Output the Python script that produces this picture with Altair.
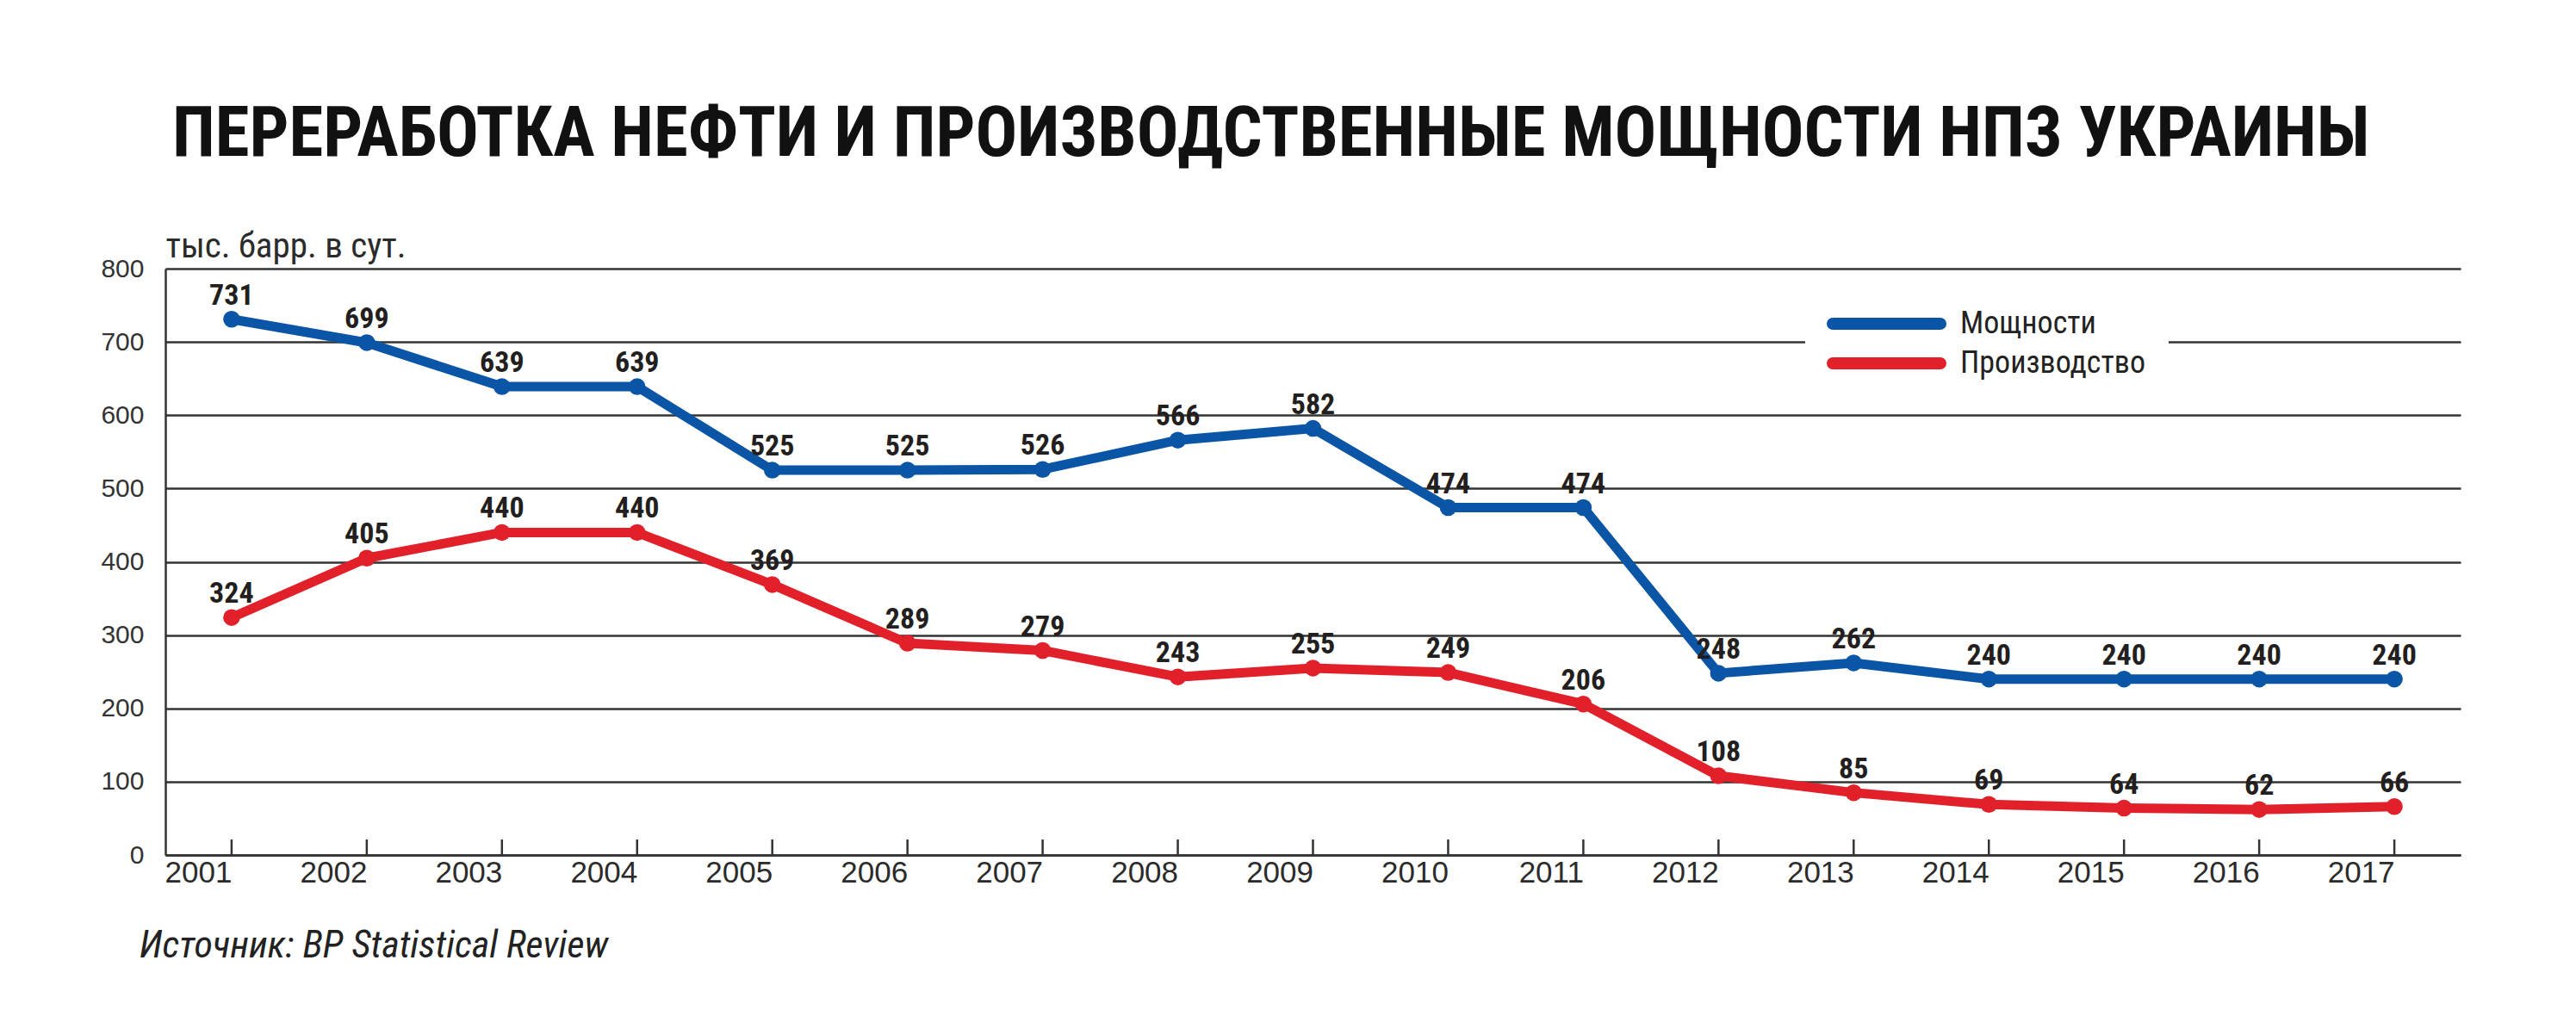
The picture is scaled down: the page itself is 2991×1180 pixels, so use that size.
import altair as alt
import pandas as pd

# ---- data ----
years = [str(y) for y in range(2001, 2018)]
capacity = [731, 699, 639, 639, 525, 525, 526, 566, 582, 474, 474, 248, 262, 240, 240, 240, 240]
production = [324, 405, 440, 440, 369, 289, 279, 243, 255, 249, 206, 108, 85, 69, 64, 62, 66]
series_names = ["Мощности", "Производство"]
series_colors = ["#0b55a6", "#e2202a"]
y_ticks = [0, 100, 200, 300, 400, 500, 600, 700, 800]
title_text = ["ПЕРЕРАБОТКА НЕФТИ И ПРОИЗВОДСТВЕННЫЕ МОЩНОСТИ НПЗ УКРАИНЫ"]
unit_text = "тыс. барр. в сут."
source_text = ["Источник: BP Statistical Review"]

rows = []
for i, y in enumerate(years):
    rows.append({"year": y, "series": series_names[0], "value": capacity[i]})
    rows.append({"year": y, "series": series_names[1], "value": production[i]})
df = pd.DataFrame(rows)

COND = "'Roboto Condensed', 'Liberation Sans', sans-serif"
REG = "'Liberation Sans', Arial, sans-serif"

W, H = 2665, 681
color_scale = alt.Scale(domain=series_names, range=series_colors)

xs = alt.X("year:O", scale=alt.Scale(type="point", padding=0.49),
           axis=alt.Axis(title=None, labelAngle=0, labelFontSize=35, labelFont=REG,
                         labelColor="#2b2b2b", labelPadding=20, ticks=False,
                         domain=True, domainColor="#333333", domainWidth=2.5, grid=False))
ys = alt.Y("value:Q", scale=alt.Scale(domain=[0, 800], nice=False),
           axis=alt.Axis(values=y_ticks, title=unit_text, titleAngle=0, titleAlign="left",
                         titleBaseline="alphabetic", titleX=0, titleY=-14, titleFontSize=41,
                         titleFont=COND, titleFontWeight="normal", titleColor="#2b2b2b",
                         labelFontSize=30, labelFont=REG, labelColor="#333333",
                         labelPadding=25, ticks=False, domain=True, domainColor="#333333",
                         domainWidth=2.5, grid=True, gridColor="#333333", gridWidth=2.5))

base = alt.Chart(df)

ticks = alt.Chart(pd.DataFrame({"year": years})).mark_rule(
    stroke="#333333", strokeWidth=2.5).encode(
    x=alt.X("year:O"), y=alt.value(H), y2=alt.value(H - 18))

lines = base.mark_line(strokeWidth=11, strokeJoin="round", strokeCap="round").encode(
    x=xs, y=ys, color=alt.Color("series:N", scale=color_scale, legend=None),
    detail="series:N")

points = base.mark_point(filled=True, size=380, opacity=1).encode(
    x="year:O", y="value:Q",
    color=alt.Color("series:N", scale=color_scale, legend=None))

labels = base.mark_text(dy=-17, baseline="alphabetic", fontSize=34, fontWeight="bold",
                        font=COND, color="#231f20").encode(
    x="year:O", y="value:Q", text=alt.Text("value:Q"))

# ---- legend (white box + coloured bars + labels) ----
legend_box = alt.Chart(pd.DataFrame({"k": [0]})).mark_rect(fill="white").encode(
    x=alt.value(1904), x2=alt.value(2326), y=alt.value(30), y2=alt.value(150))

legend_layers = [legend_box]
for i, name in enumerate(series_names):
    ldf = pd.DataFrame({"series": [name]})
    yy = 64 + i * 46
    legend_layers.append(
        alt.Chart(ldf).mark_rule(strokeWidth=14, strokeCap="round").encode(
            x=alt.value(1936), x2=alt.value(2061), y=alt.value(yy),
            color=alt.Color("series:N", scale=color_scale, legend=None)))
    legend_layers.append(
        alt.Chart(ldf).mark_text(align="left", baseline="middle", fontSize=36,
                                 font=COND, color="#222222").encode(
            x=alt.value(2084), y=alt.value(yy), text="series:N"))

title = alt.Chart(pd.DataFrame({"t": title_text})).mark_text(
    align="left", baseline="alphabetic", fontSize=81, fontWeight="bold",
    font=COND, color="#111111").encode(text="t:N", x=alt.value(8), y=alt.value(-131))

source = alt.Chart(pd.DataFrame({"t": source_text})).mark_text(
    align="left", baseline="alphabetic", fontSize=44, fontStyle="italic",
    font=COND, color="#222222").encode(text="t:N", x=alt.value(-30), y=alt.value(800))

chart = alt.layer(ticks, lines, points, labels, *legend_layers, title, source).properties(
    width=W, height=H,
    padding={"left": 192, "top": 312, "right": 134, "bottom": 187},
    autosize=alt.AutoSizeParams(type="none"),
    background="white",
).configure_view(stroke=None)

chart.save("out.html", embed_options={"renderer": "svg", "actions": False})
